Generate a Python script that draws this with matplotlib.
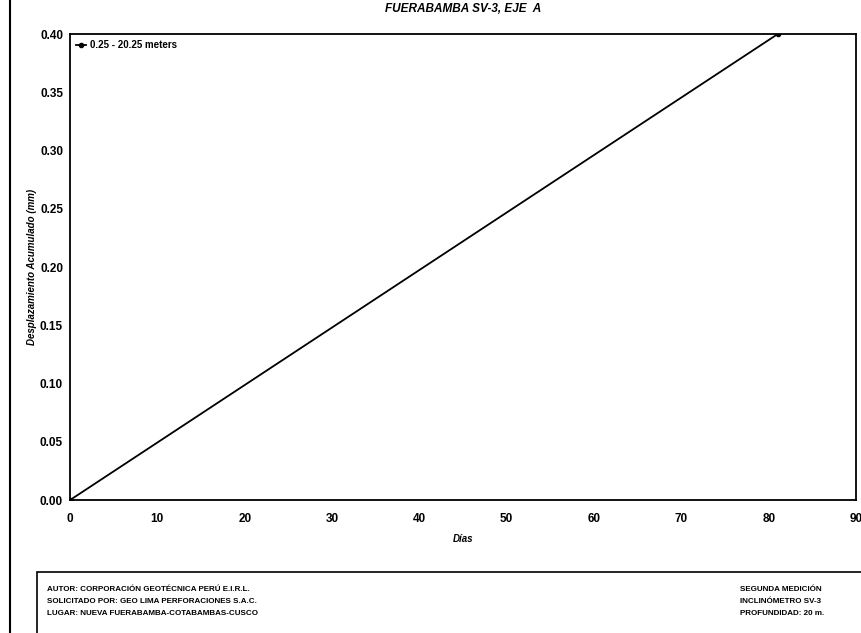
import matplotlib
matplotlib.use("Agg")
import matplotlib.pyplot as plt
from matplotlib.patches import Rectangle

# data
dias = [0, 81]
desplazamiento = [0.0, 0.40]
serie_label = "0.25 - 20.25 meters"

xticks = [0, 10, 20, 30, 40, 50, 60, 70, 80, 90]
yticks = [0.00, 0.05, 0.10, 0.15, 0.20, 0.25, 0.30, 0.35, 0.40]

info_izq = ["AUTOR: CORPORACIÓN GEOTÉCNICA PERÚ E.I.R.L.",
            "SOLICITADO POR: GEO LIMA PERFORACIONES S.A.C.",
            "LUGAR: NUEVA FUERABAMBA-COTABAMBAS-CUSCO"]
info_der = ["SEGUNDA MEDICIÓN",
            "INCLINÓMETRO SV-3",
            "PROFUNDIDAD: 20 m."]

plt.rcParams['font.family'] = ['Liberation Sans', 'DejaVu Sans']

fig = plt.figure(figsize=(8.62, 6.33), dpi=100)
ax = fig.add_axes([0.0812, 0.21, 0.912, 0.736])

ax.plot(dias, desplazamiento, color='black', lw=1.3, marker='o', ms=3,
        label=serie_label)
ax.set_xlim(0, 90)
ax.set_ylim(0, 0.40)
ax.set_xticks(xticks)
ax.set_yticks(yticks)
ax.set_yticklabels([f"{v:.2f}" for v in yticks])
ax.tick_params(length=0, labelsize=8.5, pad=5)
ax.tick_params(axis='x', pad=9)
for lbl in ax.get_xticklabels() + ax.get_yticklabels():
    lbl.set_fontweight('bold')
for s in ax.spines.values():
    s.set_linewidth(1.3)

ax.set_title("FUERABAMBA SV-3, EJE  A", fontsize=8.5, fontweight='bold',
             style='italic', pad=16)
ax.set_xlabel("Días", fontsize=7, fontweight='bold', style='italic', labelpad=7)
ax.set_ylabel("Desplazamiento Acumulado (mm)", fontsize=7, fontweight='bold',
              style='italic', labelpad=2)

leg = ax.legend(loc='upper left', fontsize=7, frameon=False, handlelength=1.0,
                borderaxespad=0.2, handletextpad=0.5)
for t in leg.get_texts():
    t.set_fontweight('bold')

# page border line on the left
fig.add_artist(plt.Line2D([0.012, 0.012], [0, 1], color='black', lw=1.5,
                          transform=fig.transFigure))

# info box at the bottom
fig.add_artist(Rectangle((0.043, -0.01), 0.96, 0.107, transform=fig.transFigure,
                         fill=False, edgecolor='black', lw=1.2))
for i, (a, b) in enumerate(zip(info_izq, info_der)):
    y = 0.069 - i * 0.019
    fig.text(0.055, y, a, fontsize=5.8, fontweight='bold', va='center')
    fig.text(0.858, y, b, fontsize=5.8, fontweight='bold', va='center')

fig.savefig("out.png", dpi=100)
